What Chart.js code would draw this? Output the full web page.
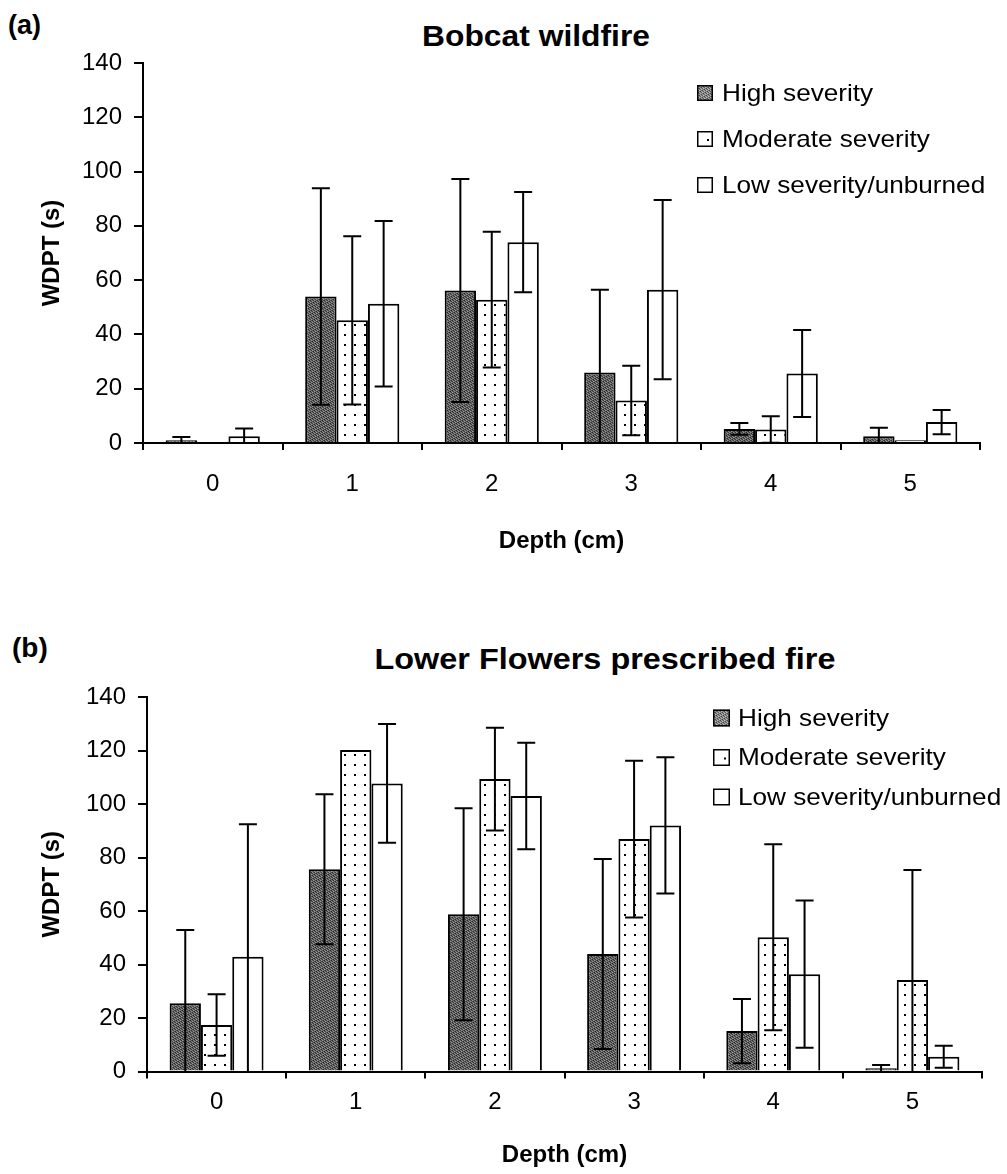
<!DOCTYPE html>
<html>
<head>
<meta charset="utf-8">
<script src="https://cdn.jsdelivr.net/npm/chart.js@4.4.0/dist/chart.umd.min.js"></script>
<style>
body{margin:0;background:#fff;width:1007px;height:1174px;position:relative;overflow:hidden;font-family:"Liberation Sans",Arial,sans-serif;}
.lbl{position:absolute;font-weight:bold;line-height:1;white-space:nowrap;color:#000}
.wrap{position:absolute;left:0;width:1007px}
</style>
</head>
<body>
<div class="lbl" style="left:8px;top:12px;font-size:27px">(a)</div>
<div class="lbl" style="left:536px;top:21px;font-size:30px;transform:translateX(-50%) scaleX(1.06)">Bobcat wildfire</div>
<div class="wrap" style="top:0;height:570px"><canvas id="chartA"></canvas></div>
<div class="lbl" style="left:12px;top:634px;font-size:28px">(b)</div>
<div class="lbl" style="left:605px;top:644px;font-size:30px;transform:translateX(-50%) scaleX(1.08)">Lower Flowers prescribed fire</div>
<div class="wrap" style="top:590px;height:584px"><canvas id="chartB"></canvas></div>
<script>
const depths = ['0', '1', '2', '3', '4', '5'];
const seriesNames = ['High severity', 'Moderate severity', 'Low severity/unburned'];

// (a) Bobcat wildfire - means and error (one side)
const bobHigh    = [1.0, 54.0, 56.2, 26.0, 5.2, 2.5];
const bobHighErr = [1.2, 39.9, 41.1, 30.5, 2.2, 3.1];
const bobMod     = [0.5, 45.2, 52.8, 15.7, 5.0, 1.0];
const bobModErr  = [0, 31.0, 25.0, 12.8, 4.9, 0];
const bobLow     = [2.5, 51.3, 74.0, 56.5, 25.6, 7.7];
const bobLowErr  = [2.8, 30.5, 18.5, 33.0, 16.0, 4.5];

// (b) Lower Flowers prescribed fire
const lfHigh    = [25.5, 75.6, 58.8, 43.9, 15.1, 1.2];
const lfHighErr = [27.4, 28.0, 39.6, 35.5, 12.0, 1.2];
const lfMod     = [17.4, 120.2, 109.3, 86.9, 50.2, 34.2];
const lfModErr  = [11.5, 0, 19.2, 29.3, 34.8, 41.1];
const lfLow     = [42.9, 107.7, 103.0, 92.0, 36.4, 5.5];
const lfLowErr  = [49.5, 22.2, 19.9, 25.5, 27.5, 4.1];

const yTicks = [0, 20, 40, 60, 80, 100, 120, 140];

const FONT = '"Liberation Sans", Arial, sans-serif';

// speckled dark gray fill like the printed halftone
function grainPattern(lo, hi) {
  const c = document.createElement('canvas');
  c.width = 7; c.height = 7;
  const g = c.getContext('2d');
  for (let i = 0; i < 7; i++) {
    for (let j = 0; j < 7; j++) {
      const k = ((i * 5 + j * 3) % 7) / 6;
      const v = Math.round(lo + (hi - lo) * k);
      g.fillStyle = `rgb(${v},${v},${v})`;
      g.fillRect(i, j, 1, 1);
    }
  }
  return g.createPattern(c, 'repeat');
}
function dotPattern() {
  const c = document.createElement('canvas');
  c.width = 10; c.height = 10;
  const g = c.getContext('2d');
  g.fillStyle = '#fff'; g.fillRect(0, 0, 10, 10);
  g.fillStyle = '#000'; g.fillRect(4, 4, 2, 2);
  return g.createPattern(c, 'repeat');
}
const highFill = grainPattern(40, 150);
const modFill = dotPattern();

const errorBars = {
  id: 'errorBars',
  afterDatasetsDraw(chart) {
    const ctx = chart.ctx, y = chart.scales.y;
    ctx.save();
    ctx.strokeStyle = '#000';
    ctx.lineWidth = 2;
    chart.data.datasets.forEach((ds, i) => {
      chart.getDatasetMeta(i).data.forEach((bar, j) => {
        const e = ds.errors[j];
        if (!e) return;
        const v = ds.data[j];
        const top = y.getPixelForValue(v + e);
        const lowV = v - e;
        const bot = y.getPixelForValue(Math.max(0, lowV));
        ctx.beginPath();
        ctx.moveTo(bar.x, top); ctx.lineTo(bar.x, bot);
        ctx.moveTo(bar.x - 9, top); ctx.lineTo(bar.x + 9, top);
        if (lowV > 0) { ctx.moveTo(bar.x - 9, bot); ctx.lineTo(bar.x + 9, bot); }
        ctx.stroke();
      });
    });
    ctx.restore();
  }
};

const boxLegend = {
  id: 'boxLegend',
  afterDraw(chart, args, o) {
    const ctx = chart.ctx;
    ctx.save();
    ctx.font = '24px ' + FONT;
    ctx.textBaseline = 'middle';
    const fills = [grainPattern(70, 190), '#fff', '#fff'];
    seriesNames.forEach((name, i) => {
      const cy = o.y + i * o.gap;
      const bx = o.x, by = cy - o.box / 2;
      ctx.fillStyle = fills[i];
      ctx.fillRect(bx, by, o.box, o.box);
      if (i === 1) { ctx.fillStyle = '#000'; ctx.fillRect(bx + o.box - 6, by + o.box / 2, 2, 2); }
      ctx.strokeStyle = '#000';
      ctx.lineWidth = 1.5;
      ctx.strokeRect(bx + 0.75, by + 0.75, o.box - 1.5, o.box - 1.5);
      ctx.fillStyle = '#000';
      ctx.save();
      ctx.translate(o.textX, cy + 1);
      ctx.scale(1.09, 1);
      ctx.fillText(name, 0, 0);
      ctx.restore();
    });
    ctx.restore();
  }
};

function makeChart(id, high, highErr, mod, modErr, low, lowErr, lay) {
  new Chart(document.getElementById(id), {
    type: 'bar',
    data: {
      labels: depths,
      datasets: [
        { label: seriesNames[0], data: high, errors: highErr, backgroundColor: highFill },
        { label: seriesNames[1], data: mod, errors: modErr, backgroundColor: modFill },
        { label: seriesNames[2], data: low, errors: lowErr, backgroundColor: '#fff' }
      ].map(d => Object.assign(d, {
        borderColor: '#000', borderWidth: 2,
        categoryPercentage: 0.675, barPercentage: 1.0
      }))
    },
    options: {
      responsive: true,
      maintainAspectRatio: false,
      animation: false,
      layout: { padding: { top: lay.top, right: lay.right, bottom: lay.bottom, left: 0 } },
      plugins: {
        legend: { display: false },
        tooltip: { enabled: false },
        boxLegend: lay.legend
      },
      scales: {
        x: {
          afterFit: s => { s.height = lay.xHeight; },
          grid: { offset: true, drawOnChartArea: false, drawTicks: true, tickLength: 7, color: '#000', lineWidth: 2 },
          border: { color: '#000', width: 2 },
          ticks: { color: '#000', font: { size: 24, family: FONT }, padding: lay.xPad, maxRotation: 0 },
          title: { display: true, text: 'Depth (cm)', color: '#000',
                   font: { size: 24, weight: 'bold', family: FONT }, padding: { top: 4, bottom: 0 } }
        },
        y: {
          min: 0, max: 140,
          afterFit: s => { s.width = lay.left; },
          afterBuildTicks: s => { s.ticks = yTicks.map(v => ({ value: v })); },
          grid: { drawOnChartArea: false, drawTicks: true, tickLength: 9, color: '#000', lineWidth: 2 },
          border: { color: '#000', width: 2 },
          ticks: { color: '#000', font: { size: 24, family: FONT }, padding: 12 },
          title: { display: true, text: 'WDPT (s)', color: '#000',
                   font: { size: 24, weight: 'bold', family: FONT }, padding: { top: 38, bottom: 0 } }
        }
      }
    },
    plugins: [errorBars, boxLegend]
  });
}

makeChart('chartA', bobHigh, bobHighErr, bobMod, bobModErr, bobLow, bobLowErr, {
  top: 63, right: 27, bottom: 14, left: 143, xPad: 20, xHeight: 113,
  legend: { x: 697, y: 93, gap: 46, box: 16, textX: 722 }
});
makeChart('chartB', lfHigh, lfHighErr, lfMod, lfModErr, lfLow, lfLowErr, {
  top: 107, right: 25, bottom: 4, left: 147, xPad: 9, xHeight: 98.5,
  legend: { x: 713, y: 128, gap: 39.5, box: 17, textX: 738 }
});
</script>
</body>
</html>
